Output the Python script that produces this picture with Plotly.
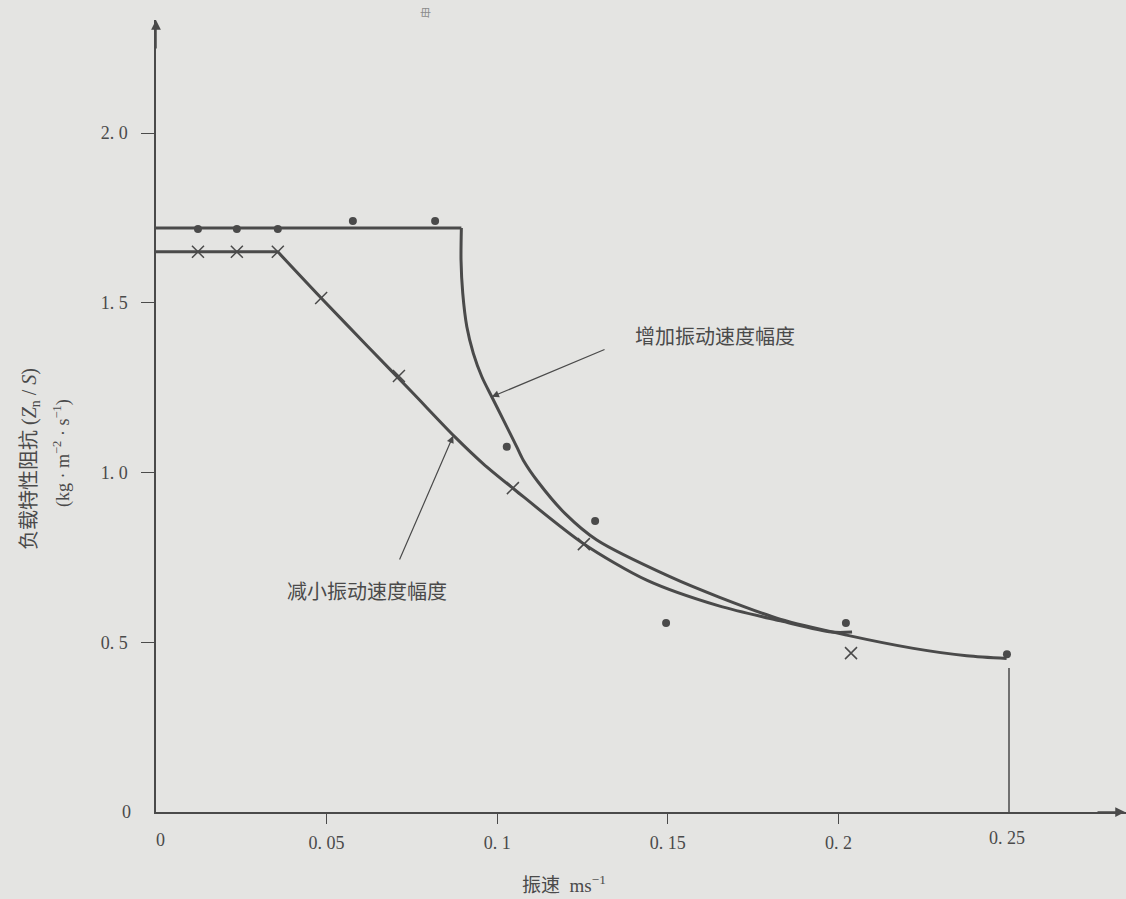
import plotly.graph_objects as go

# ---- data ----
# increasing amplitude curve (upper)
inc_flat_x = [0.0, 0.0895]
inc_flat_y = [1.72, 1.72]
inc_curve_x = [0.0895, 0.0894, 0.0899, 0.0911, 0.0930, 0.0955, 0.0984, 0.1018, 0.1057, 0.1076,
               0.1120, 0.1200, 0.1292, 0.1506, 0.1650, 0.1829, 0.2024, 0.2220, 0.2376, 0.2493]
inc_curve_y = [1.72, 1.626, 1.528, 1.429, 1.351, 1.282, 1.223, 1.155, 1.076, 1.037,
               0.972, 0.878, 0.801, 0.693, 0.633, 0.568, 0.521, 0.482, 0.460, 0.452]
# decreasing amplitude curve (lower)
dec_flat_x = [0.0, 0.0357]
dec_flat_y = [1.65, 1.65]
dec_curve_x = [0.0357, 0.0484, 0.0620, 0.0750, 0.0876, 0.0960, 0.1047, 0.1252, 0.1438, 0.1650,
               0.1830, 0.1980, 0.2040]
dec_curve_y = [1.65, 1.514, 1.372, 1.237, 1.105, 1.025, 0.953, 0.791, 0.683, 0.607,
               0.563, 0.530, 0.530]
# measured points
dot_x = [0.0123, 0.0237, 0.0357, 0.0577, 0.0818, 0.1028, 0.1287, 0.1495, 0.2022, 0.2494]
dot_y = [1.717, 1.717, 1.717, 1.741, 1.741, 1.076, 0.857, 0.557, 0.557, 0.465]
cross_x = [0.0123, 0.0237, 0.0357, 0.0484, 0.0712, 0.1046, 0.1254, 0.2037]
cross_y = [1.65, 1.65, 1.65, 1.514, 1.284, 0.954, 0.789, 0.468]
# end marker line
end_x = [0.25, 0.25]
end_y = [0.0, 0.424]

x_ticks = [0.05, 0.1, 0.15, 0.2]
x_ticktext = ["0. 05", "0. 1", "0. 15", "0. 2"]
y_ticks = [0.5, 1.0, 1.5, 2.0]
y_ticktext = ["0. 5", "1. 0", "1. 5", "2. 0"]

INK = "#4a4a4a"
BG = "#e4e4e2"
SERIF = "Liberation Serif, Noto Sans CJK SC"
CJK = "Noto Sans CJK SC"

W, H = 1126, 899
L, R, T, B = 156, 0, 20, 87


def px_to_paper(px, py):
    return (px - L) / (W - L - R), (H - B - py) / (H - T - B)


fig = go.Figure()
fig.add_trace(go.Scatter(x=inc_flat_x, y=inc_flat_y, mode="lines",
                         line=dict(color=INK, width=3), hoverinfo="skip"))
fig.add_trace(go.Scatter(x=inc_curve_x, y=inc_curve_y, mode="lines",
                         line=dict(color=INK, width=3, shape="spline", smoothing=0.8), hoverinfo="skip"))
fig.add_trace(go.Scatter(x=dec_flat_x, y=dec_flat_y, mode="lines",
                         line=dict(color=INK, width=3), hoverinfo="skip"))
fig.add_trace(go.Scatter(x=dec_curve_x, y=dec_curve_y, mode="lines",
                         line=dict(color=INK, width=3, shape="spline", smoothing=0.8), hoverinfo="skip"))
fig.add_trace(go.Scatter(x=end_x, y=end_y, mode="lines", line=dict(color=INK, width=1.5), hoverinfo="skip"))
fig.add_trace(go.Scatter(x=dot_x, y=dot_y, mode="markers",
                         marker=dict(symbol="circle", size=8, color=INK), hoverinfo="skip"))
fig.add_trace(go.Scatter(x=cross_x, y=cross_y, mode="markers",
                         marker=dict(symbol="x-thin-open", size=12, color=INK,
                                     line=dict(color=INK, width=1.5)), hoverinfo="skip"))

annotations = []
# axis arrowheads
annotations.append(dict(x=1, y=0, xref="paper", yref="paper", ax=-30, ay=0, text="",
                        showarrow=True, arrowhead=2, arrowsize=1.3, arrowwidth=1.5, arrowcolor=INK))
annotations.append(dict(x=0, y=1, xref="paper", yref="paper", ax=0, ay=30, text="",
                        showarrow=True, arrowhead=2, arrowsize=1.3, arrowwidth=1.5, arrowcolor=INK))
# extra tick labels
annotations.append(dict(x=0.0012, y=0, xref="x", yref="y", text="0", showarrow=False,
                        xanchor="center", yanchor="middle",
                        yshift=-28, font=dict(family=SERIF, size=18, color=INK)))
annotations.append(dict(x=0.2494, y=0, xref="x", yref="y", text="0. 25", showarrow=False,
                        xanchor="center", yanchor="middle",
                        yshift=-26, font=dict(family=SERIF, size=18, color=INK)))
annotations.append(dict(x=0, y=0, xref="x", yref="y", text="0", showarrow=False,
                        xanchor="right", yanchor="middle", xshift=-23,
                        font=dict(family=SERIF, size=18, color=INK)))
# curve labels with pointer arrows
annotations.append(dict(x=0.0984, y=1.223, ax=0.1319, ay=1.364, xref="x", yref="y",
                        axref="x", ayref="y", text="", showarrow=True, arrowhead=2,
                        arrowsize=1.2, arrowwidth=1.2, arrowcolor=INK))
annotations.append(dict(x=0.1638, y=1.405, xref="x", yref="y", text="增加振动速度幅度",
                        xanchor="center", yanchor="middle",
                        showarrow=False, font=dict(family=CJK, size=20, color=INK)))
annotations.append(dict(x=0.0871, y=1.108, ax=0.0712, ay=0.739, xref="x", yref="y",
                        axref="x", ayref="y", text="", showarrow=True, arrowhead=2,
                        arrowsize=1.2, arrowwidth=1.2, arrowcolor=INK))
annotations.append(dict(x=0.0618, y=0.651, xref="x", yref="y", text="减小振动速度幅度",
                        xanchor="center", yanchor="middle",
                        showarrow=False, font=dict(family=CJK, size=20, color=INK)))
# axis titles
tx, ty = px_to_paper(30, 459)
annotations.append(dict(x=tx, y=ty, xref="paper", yref="paper", textangle=-90,
                        xanchor="center", yanchor="middle",
                        text="负载特性阻抗 (<i>Z</i><sub>n</sub> / <i>S</i>)", showarrow=False,
                        font=dict(family=SERIF, size=20, color=INK)))
tx, ty = px_to_paper(62, 453)
annotations.append(dict(x=tx, y=ty, xref="paper", yref="paper", textangle=-90,
                        xanchor="center", yanchor="middle",
                        text="(kg · m<sup>−2</sup> · s<sup>−1</sup>)", showarrow=False,
                        font=dict(family=SERIF, size=18, color=INK)))
tx, ty = px_to_paper(564, 884)
annotations.append(dict(x=tx, y=ty, xref="paper", yref="paper",
                        xanchor="center", yanchor="middle",
                        text="振速  ms<sup>−1</sup>", showarrow=False,
                        font=dict(family=SERIF, size=19, color=INK)))
tx, ty = px_to_paper(425, 12)
annotations.append(dict(x=tx, y=ty, xref="paper", yref="paper", text="毌", showarrow=False,
                        xanchor="center", yanchor="middle",
                        font=dict(family=CJK, size=11, color="#8a8a8a")))

fig.update_layout(
    width=W, height=H,
    margin=dict(l=L, r=R, t=T, b=B),
    paper_bgcolor=BG, plot_bgcolor=BG,
    showlegend=False,
    annotations=annotations,
    xaxis=dict(range=[0, (W - L - R) / 3412.0], showgrid=False, zeroline=False,
               showline=True, linecolor=INK, linewidth=1.5,
               ticks="outside", ticklen=10, tickwidth=1.2, tickcolor=INK,
               ticklabelstandoff=4,
               tickvals=x_ticks, ticktext=x_ticktext,
               tickfont=dict(family=SERIF, size=18, color=INK)),
    yaxis=dict(range=[0, (H - T - B) / 339.5], showgrid=False, zeroline=False,
               showline=True, linecolor=INK, linewidth=1.5,
               ticks="outside", ticklen=13, tickwidth=1.2, tickcolor=INK,
               ticklabelstandoff=10,
               tickvals=y_ticks, ticktext=y_ticktext,
               tickfont=dict(family=SERIF, size=18, color=INK)),
)

fig.write_html(
    "out.html",
    config={"displayModeBar": False},
    post_script="document.body.style.margin='0';document.body.style.background='%s';" % BG,
)
